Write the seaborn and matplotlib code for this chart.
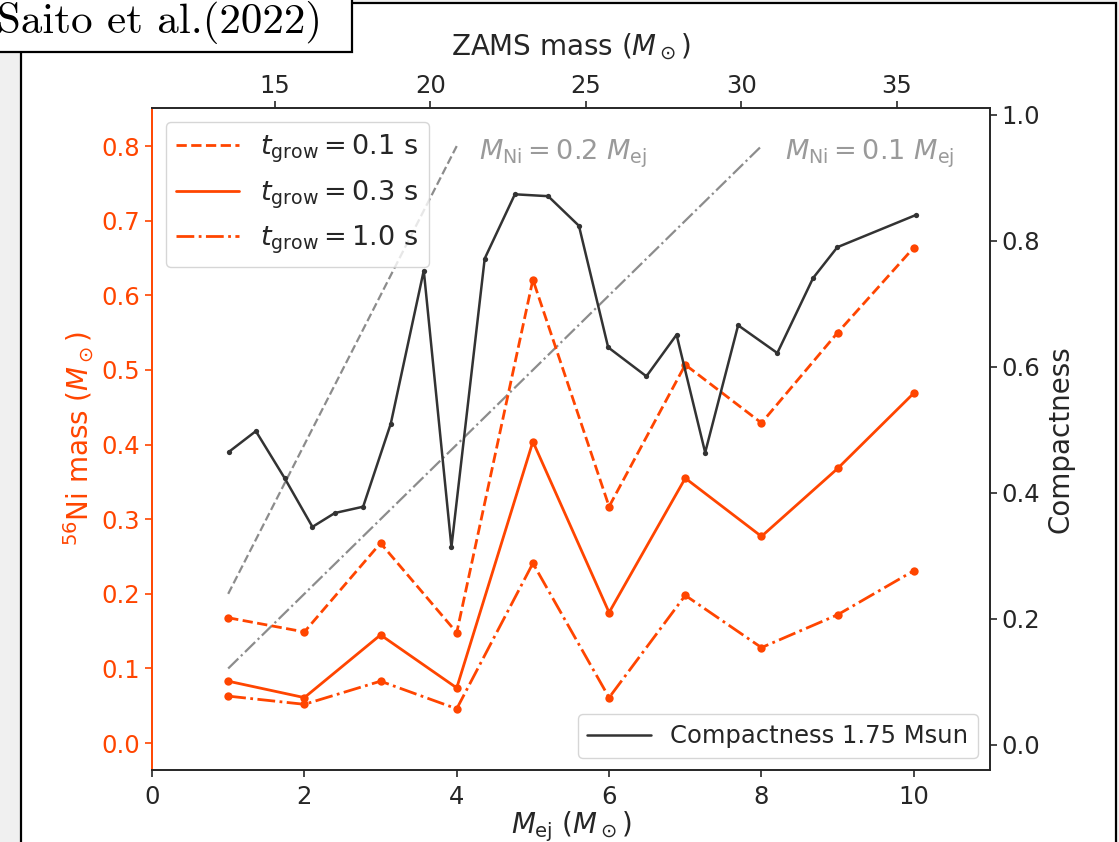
import matplotlib
matplotlib.use("Agg")
import matplotlib.pyplot as plt
from matplotlib.patches import Rectangle
from matplotlib.lines import Line2D
import seaborn as sns

# ---------------- data ----------------
mej = [1, 2, 3, 4, 5, 6, 7, 8, 9, 10]
ni_t01 = [0.168, 0.149, 0.268, 0.148, 0.621, 0.317, 0.507, 0.429, 0.550, 0.664]
ni_t03 = [0.083, 0.061, 0.145, 0.074, 0.404, 0.175, 0.355, 0.277, 0.368, 0.469]
ni_t10 = [0.063, 0.052, 0.083, 0.046, 0.241, 0.061, 0.198, 0.128, 0.172, 0.231]
series_labels = [r"$t_{\rm grow} = 0.1$ s", r"$t_{\rm grow} = 0.3$ s", r"$t_{\rm grow} = 1.0$ s"]

zams = [13.52, 14.39, 15.32, 16.21, 16.93, 17.84, 18.73, 19.79, 20.68, 21.75, 22.72,
        23.79, 24.78, 25.72, 26.95, 27.92, 28.84, 29.90, 31.16, 32.31, 33.09, 35.61]
compactness = [0.465, 0.498, 0.423, 0.346, 0.368, 0.378, 0.510, 0.753, 0.314, 0.772, 0.874,
               0.871, 0.824, 0.631, 0.585, 0.651, 0.464, 0.666, 0.622, 0.741, 0.790, 0.841]

ref02_x = [1, 4]
ref02_y = [0.2, 0.8]
ref01_x = [1, 8]
ref01_y = [0.1, 0.8]
ref02_label = r"$M_{\rm Ni} = 0.2\ M_{\rm ej}$"
ref01_label = r"$M_{\rm Ni} = 0.1\ M_{\rm ej}$"

# ---------------- style ----------------
sns.set_style("ticks")
plt.rcParams['font.family'] = ['DejaVu Sans']
plt.rcParams['mathtext.fontset'] = 'dejavusans'

W, H = 1119, 842
ORANGE = 'orangered'
TICK_FS = 17.5
LAB_FS = 20
LEG_FS = 19.5

fig = plt.figure(figsize=(W / 100, H / 100), dpi=100, facecolor='#f0f0f0')

# outer page frame
fig.patches.append(Rectangle((21 / W, -0.02), (1116 - 21) / W, 1.02 - 3 / H,
                             transform=fig.transFigure, facecolor='white',
                             edgecolor='black', lw=1.6, zorder=-2))
# citation box
fig.patches.append(Rectangle((-0.02, 1 - 52 / H), 352 / W + 0.02, 0.1,
                             transform=fig.transFigure, facecolor='white',
                             edgecolor='black', lw=1.6, zorder=-1))
fig.text(-3 / W, 1 - 33 / H, "Saito et al.(2022)", fontfamily='cmr10', fontsize=31,
         ha='left', va='baseline', color='black')

left, right, bottom, top = 152 / W, 990 / W, 1 - 770 / H, 1 - 108 / H
ax = fig.add_axes([left, bottom, right - left, top - bottom])
ax.set_facecolor('white')

# reference lines
sns.lineplot(x=ref02_x, y=ref02_y, ax=ax, color='#8c8c8c', linestyle='--', lw=1.6)
sns.lineplot(x=ref01_x, y=ref01_y, ax=ax, color='#8c8c8c', linestyle='-.', lw=1.6)
ax.text(4.29, 0.79, ref02_label, color='#9a9a9a', fontsize=LEG_FS, ha='left', va='center')
ax.text(8.31, 0.79, ref01_label, color='#9a9a9a', fontsize=LEG_FS, ha='left', va='center')

# Ni mass series
styles = ['--', '-', '-.']
handles = []
for vals, ls in zip([ni_t01, ni_t03, ni_t10], styles):
    sns.lineplot(x=mej, y=vals, ax=ax, color=ORANGE, linestyle=ls, lw=2.0,
                 marker='o', markersize=6, markeredgewidth=0)
    handles.append(Line2D([], [], color=ORANGE, linestyle=ls, lw=2.0))
ax.legend(handles, series_labels, loc='upper left', fontsize=LEG_FS,
          handlelength=2.3, frameon=True)

ax.set_xlim(0, 11)
ax.set_ylim(-0.036, 0.851)
ax.set_xticks([0, 2, 4, 6, 8, 10])
ax.set_yticks([0.0, 0.1, 0.2, 0.3, 0.4, 0.5, 0.6, 0.7, 0.8])
ax.tick_params(axis='both', labelsize=TICK_FS, length=5, width=1.2)
ax.tick_params(axis='x', pad=6)
ax.tick_params(axis='y', colors=ORANGE, labelcolor=ORANGE)
ax.spines['left'].set_color(ORANGE)
for s in ax.spines.values():
    s.set_linewidth(1.4)
ax.set_xlabel(r"$M_{\rm ej}$ ($M_\odot$)", fontsize=LAB_FS, labelpad=0)
ax.set_ylabel(r"$^{56}$Ni mass ($M_\odot$)", fontsize=LAB_FS, color=ORANGE)

# compactness on top/right axes
axc = fig.add_axes(ax.get_position(), frameon=False)
axc.patch.set_alpha(0)
sns.lineplot(x=zams, y=compactness, ax=axc, color='#333333', lw=1.8,
             marker='o', markersize=3.8, markeredgewidth=0)
axc.legend([Line2D([], [], color='#333333', lw=1.8)], ["Compactness 1.75 Msun"],
           loc='lower right', fontsize=TICK_FS, handlelength=2.6)
axc.set_xlim(11.05, 38.0)
axc.set_ylim(-0.04, 1.011)
axc.xaxis.tick_top()
axc.xaxis.set_label_position('top')
axc.yaxis.tick_right()
axc.yaxis.set_label_position('right')
axc.set_xticks([15, 20, 25, 30, 35])
axc.set_yticks([0.0, 0.2, 0.4, 0.6, 0.8, 1.0])
axc.tick_params(axis='both', labelsize=TICK_FS, length=5, width=1.2)
axc.tick_params(axis='x', pad=2)
axc.set_xlabel(r"ZAMS mass ($M_\odot$)", fontsize=LAB_FS, labelpad=14)
axc.set_ylabel("Compactness", fontsize=LAB_FS)

fig.savefig('out.png', dpi=100, facecolor=fig.get_facecolor())
